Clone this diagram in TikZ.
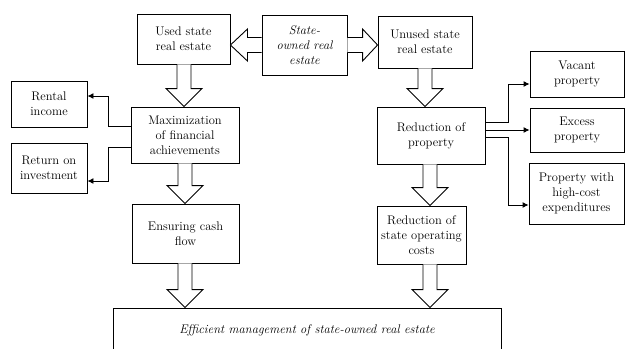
\documentclass[tikz,border=0pt]{standalone}
\usepackage{fontspec}
\usetikzlibrary{calc,arrows.meta}
\tikzset{
  box/.style={draw, line width=0.9pt, rectangle, align=center, inner sep=0pt,
    font=\fontsize{12.5}{15}\selectfont},
  hollow/.style={draw, line width=0.9pt, fill=white, line join=miter},
  thinarrow/.style={draw, line width=0.9pt, -{Latex[length=6pt,width=6pt]}}
}
\newcommand\hdown[3]{%
  \draw[hollow] let \p1=(#1.south), \p2=(#2.north) in
    (#3pt-7pt,\y1) -- (#3pt-7pt,\y2+18pt) -- (#3pt-18pt,\y2+18pt) -- (#3pt,\y2)
    -- (#3pt+18pt,\y2+18pt) -- (#3pt+7pt,\y2+18pt) -- (#3pt+7pt,\y1);}
\begin{document}
\begin{tikzpicture}[x=1pt,y=-1pt]
\clip (0,0) rectangle (626,348);
\node[box, minimum width=93pt, minimum height=50pt] (used) at (183.5,39) {Used state\\real estate};
\node[box, minimum width=85pt, minimum height=60pt, font=\fontsize{12.5}{15}\selectfont\itshape] (state) at (304.5,45) {State-\\owned real\\estate};
\node[box, minimum width=94pt, minimum height=52pt] (unused) at (425,42) {Unused state\\real estate};
\node[box, minimum width=108pt, minimum height=56pt] (max) at (185,135) {Maximization\\of financial\\achievements};
\node[box, minimum width=76pt, minimum height=46pt] (rental) at (49,104) {Rental\\income};
\node[box, minimum width=76pt, minimum height=50pt] (roi) at (49,168) {Return on\\investment};
\node[box, minimum width=107pt, minimum height=59pt] (cash) at (185.5,233.5) {Ensuring cash\\flow};
\node[box, minimum width=108pt, minimum height=57pt] (redprop) at (431,135.5) {Reduction of\\property};
\node[box, minimum width=94pt, minimum height=46pt] (vacant) at (577,74) {Vacant\\property};
\node[box, minimum width=94pt, minimum height=44pt] (excess) at (577,130) {Excess\\property};
\node[box, minimum width=95pt, minimum height=61pt] (highcost) at (576.5,193.5) {Property with\\high-cost\\expenditures};
\node[box, minimum width=89pt, minimum height=58pt] (costs) at (421.5,235) {Reduction of\\state operating\\costs};
\node[box, minimum width=388pt, minimum height=44pt, font=\fontsize{12.5}{15}\selectfont\itshape] (eff) at (307,330) {Efficient management of state-owned real estate};
% hollow horizontal arrows
\draw[hollow] let \p1=(state.west), \p2=(used.east) in
  (\x1,\y1+7.5pt) -- (\x2+17pt,\y1+7.5pt) -- (\x2+17pt,\y1+16pt) -- (\x2,\y1)
  -- (\x2+17pt,\y1-16pt) -- (\x2+17pt,\y1-7.5pt) -- (\x1,\y1-7.5pt);
\draw[hollow] let \p1=(state.east), \p2=(unused.west) in
  (\x1,\y1+7.5pt) -- (\x2-15pt,\y1+7.5pt) -- (\x2-15pt,\y1+16pt) -- (\x2,\y1)
  -- (\x2-15pt,\y1-16pt) -- (\x2-15pt,\y1-7.5pt) -- (\x1,\y1-7.5pt);
% hollow down arrows
\hdown{used}{max}{184}
\hdown{max}{cash}{185}
\hdown{cash}{eff}{185}
\hdown{unused}{redprop}{425}
\hdown{redprop}{costs}{430}
\hdown{costs}{eff}{430}
% thin arrows
\draw[thinarrow] ([yshift=9pt]max.west) -- ++(-22,0) |- ([yshift=8pt]rental.east);
\draw[thinarrow] ([yshift=-12pt]max.west) -- ++(-22,0) |- ([yshift=-13pt]roi.east);
\draw[thinarrow] ([yshift=13.5pt]redprop.east) -- ++(23,0) |- ([yshift=-10pt]vacant.west);
\draw[thinarrow] ([yshift=5.5pt]redprop.east) -- (excess.west);
\draw[thinarrow] ([yshift=-1.5pt]redprop.east) -- ++(23,0) |- ([yshift=-11.5pt]highcost.west);
\end{tikzpicture}
\end{document}
